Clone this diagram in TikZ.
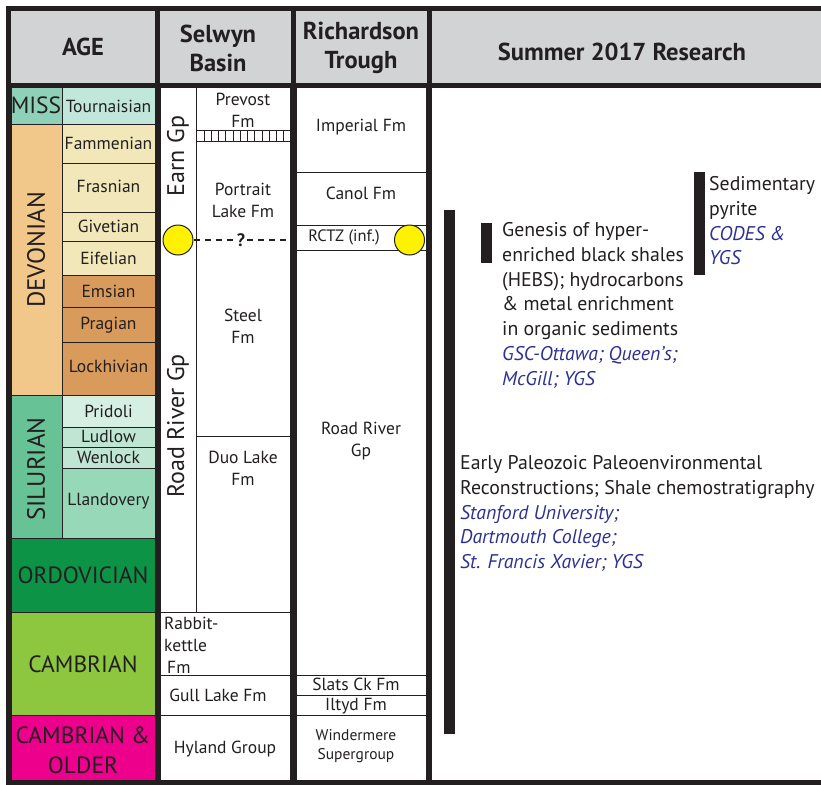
\documentclass[tikz,border=0pt]{standalone}
\usepackage{fontspec}
\setmainfont{PT Sans}
\usepackage{tikz}

\definecolor{ink}{HTML}{231F20}
\definecolor{hdgray}{HTML}{D1D3D4}
\definecolor{ublue}{HTML}{2E3192}
\definecolor{missc}{HTML}{8FD0B9}
\definecolor{tournc}{HTML}{C1E7DA}
\definecolor{devc}{HTML}{F2C88A}
\definecolor{upperdev}{HTML}{F1E7B8}
\definecolor{lowerdev}{HTML}{D89B5C}
\definecolor{silc}{HTML}{67C296}
\definecolor{pridc}{HTML}{D6EFE3}
\definecolor{ludc}{HTML}{BFE6D2}
\definecolor{llandc}{HTML}{96D8B8}
\definecolor{ordc}{HTML}{0C9346}
\definecolor{cambc}{HTML}{8DC63F}
\definecolor{oldc}{HTML}{EC008C}
\definecolor{dotc}{HTML}{FFF200}

\tikzset{
  cell/.style={draw=ink, line width=1pt},
  frame/.style={draw=ink, line width=5pt},
  epoch/.style={text=ink, font=\fontsize{17.5}{20}\selectfont},
  period/.style={text=ink, font=\fontsize{23.5}{30}\selectfont, align=center},
  fm/.style={text=ink, font=\fontsize{17.5}{22}\selectfont, align=center},
  header/.style={text=ink, font=\bfseries\fontsize{24.5}{29}\selectfont, align=center},
  res/.style={text=ink, font=\fontsize{19.8}{24.7}\selectfont, align=left, anchor=north west, inner sep=0pt},
  marker/.style={circle, fill=dotc, draw=ink, line width=1pt, minimum size=30pt, inner sep=0pt},
  dashline/.style={draw=ink, line width=1.3pt, dash pattern=on 6pt off 5pt}
}
\newcommand{\inst}[1]{{\color{ublue}\itshape #1}}

\begin{document}
\begin{tikzpicture}[x=1pt, y=-1pt]
  \useasboundingbox (0,0) rectangle (821,784);
  \fill[hdgray] (8,8) rectangle (821,85);
  \fill[white] (8,85) rectangle (821,784);

  \filldraw[cell, fill=missc] (11,87) rectangle (62,124);
  \filldraw[cell, fill=tournc] (62,87) rectangle (155,124);
  \filldraw[cell, fill=devc] (11,124) rectangle (62,395);
  \filldraw[cell, fill=upperdev] (62,124) rectangle (155,163);
  \filldraw[cell, fill=upperdev] (62,163) rectangle (155,212);
  \filldraw[cell, fill=upperdev] (62,212) rectangle (155,241);
  \filldraw[cell, fill=upperdev] (62,241) rectangle (155,275);
  \filldraw[cell, fill=lowerdev] (62,275) rectangle (155,307);
  \filldraw[cell, fill=lowerdev] (62,307) rectangle (155,342);
  \filldraw[cell, fill=lowerdev] (62,342) rectangle (155,395);
  \filldraw[cell, fill=silc] (11,395) rectangle (62,538);
  \filldraw[cell, fill=pridc] (62,395) rectangle (155,427);
  \filldraw[cell, fill=ludc] (62,427) rectangle (155,447);
  \filldraw[cell, fill=ludc] (62,447) rectangle (155,468);
  \filldraw[cell, fill=llandc] (62,468) rectangle (155,538);
  \filldraw[cell, fill=ordc] (11,538) rectangle (155,612);
  \filldraw[cell, fill=cambc] (11,612) rectangle (155,715);
  \filldraw[cell, fill=oldc] (11,715) rectangle (155,780);

  \node[period] (miss) at (36,105.5) {MISS};
  \node[period, rotate=90, font=\fontsize{25}{30}\selectfont] (devon) at (36,250) {DEVONIAN};
  \node[period, rotate=90, font=\fontsize{25}{30}\selectfont] (silur) at (36,469) {SILURIAN};
  \node[period] (ordov) at (83,575) {ORDOVICIAN};
  \node[period] (cambr) at (83,664) {CAMBRIAN};
  \node[period] (older) at (83,750) {CAMBRIAN \&\\OLDER};
  \node[epoch] (tourn) at (108.5,106) {Tournaisian};
  \node[epoch] (famm) at (108.5,143) {Fammenian};
  \node[epoch] (frasn) at (108.5,186) {Frasnian};
  \node[epoch] (givet) at (108.5,226.5) {Givetian};
  \node[epoch] (eifel) at (108.5,258) {Eifelian};
  \node[epoch] (emsi) at (108.5,291) {Emsian};
  \node[epoch] (prag) at (108.5,325) {Pragian};
  \node[epoch] (lochk) at (108.5,366) {Lockhivian};
  \node[epoch] (prid) at (108.5,411) {Pridoli};
  \node[epoch] (ludl) at (108.5,436) {Ludlow};
  \node[epoch] (wenl) at (108.5,457) {Wenlock};
  \node[epoch] (lland) at (108.5,501) {Llandovery};

  \draw[cell] (160,87) rectangle (196,612);
  \draw[cell] (196,87) rectangle (290,130);
  \draw[cell] (196,130) rectangle (290,141);
  \foreach \i in {0,...,11}
    \draw[cell] (204+7.27*\i,130) -- ++(0,11);
  \draw[cell] (196,141) rectangle (290,436);
  \draw[cell] (196,436) rectangle (290,612);
  \draw[cell] (160,612) rectangle (290,675);
  \draw[cell] (160,675) rectangle (290,715);
  \draw[cell] (160,715) rectangle (290,780);

  \node[fm, rotate=90, font=\fontsize{24}{28}\selectfont] (earn) at (178,156) {Earn Gp};
  \node[fm, rotate=90, font=\fontsize{24}{28}\selectfont] (roadsel) at (178,426) {Road River Gp};
  \node[fm] (prevost) at (243,110) {Prevost\\Fm};
  \node[fm] (portrait) at (243,200) {Portrait\\Lake Fm};
  \node[fm] (steel) at (243,326) {Steel\\Fm};
  \node[fm] (duolake) at (243,468) {Duo Lake\\Fm};
  \node[fm, align=left, anchor=west, inner sep=0pt] (rabbit) at (164,645) {Rabbit-\\kettle\\\hspace*{3pt}Fm};
  \node[fm] (gull) at (218,695) {Gull Lake Fm};
  \node[fm] (hyland) at (225,749) {Hyland Group};

  \draw[cell] (296,87) rectangle (426,172);
  \draw[cell] (296,172) rectangle (426,225);
  \draw[cell] (296,225) rectangle (426,250);
  \draw[cell] (296,250) rectangle (426,675);
  \draw[cell] (296,675) rectangle (426,695);
  \draw[cell] (296,695) rectangle (426,715);
  \draw[cell] (296,715) rectangle (426,780);

  \node[fm] (imperial) at (361,127) {Imperial Fm};
  \node[fm] (canol) at (361,193) {Canol Fm};
  \node[fm, font=\fontsize{16.5}{20}\selectfont] (rctz) at (344,237) {RCTZ (inf.)};
  \node[fm] (roadrich) at (361,441) {Road River\\Gp};
  \node[fm] (slats) at (356,684) {Slats Ck Fm};
  \node[fm] (iltyd) at (356,706) {Iltyd Fm};
  \node[fm, font=\fontsize{15.5}{19.5}\selectfont] (winder) at (356,746) {Windermere\\Supergroup};

  \node[marker] (leftdot) at (178,240) {};
  \node[marker] (rightdot) at (409.5,240) {};
  \node[fm, font=\bfseries\fontsize{18}{20}\selectfont, inner sep=2pt] (qmark) at (241,240) {?};
  \coordinate (dashend) at (288,240);
  \draw[dashline] (leftdot.east) -- (qmark.west);
  \draw[dashline] (qmark.east) -- (dashend);

  \fill[ink] (444,210) rectangle (455,734);
  \fill[ink] (481,223) rectangle (492,263);
  \fill[ink] (694,172) rectangle (705,275);
  \node[res] (hebs) at (502,222.5) {Genesis of hyper-\\enriched black shales\\(HEBS); hydrocarbons\\\& metal enrichment\\in organic sediments\\\inst{GSC-Ottawa; Queen’s;}\\\inst{McGill; YGS}};
  \node[res] (pyrite) at (709,176.5) {Sedimentary\\pyrite\\\inst{CODES \&}\\\inst{YGS}};
  \node[res] (paleo) at (460,455.5) {Early Paleozoic Paleoenvironmental\\Reconstructions; Shale chemostratigraphy\\\inst{Stanford University;}\\\inst{Dartmouth College;}\\\inst{St. Francis Xavier; YGS}};

  \node[header] (age) at (83,47) {AGE};
  \node[header] (selwyn) at (218,48) {Selwyn\\Basin};
  \node[header] (richard) at (361,48) {Richardson\\Trough};
  \node[header] (summer) at (622,52) {Summer 2017 Research};

  \draw[frame] (821,8.5) -- (8.5,8.5) -- (8.5,782) -- (821,782);
  \draw[frame] (8.5,85) -- (821,85);
  \draw[frame] (157.5,8.5) -- (157.5,782);
  \draw[frame] (293,8.5) -- (293,782);
  \draw[frame] (429,8.5) -- (429,782);
\end{tikzpicture}
\end{document}
